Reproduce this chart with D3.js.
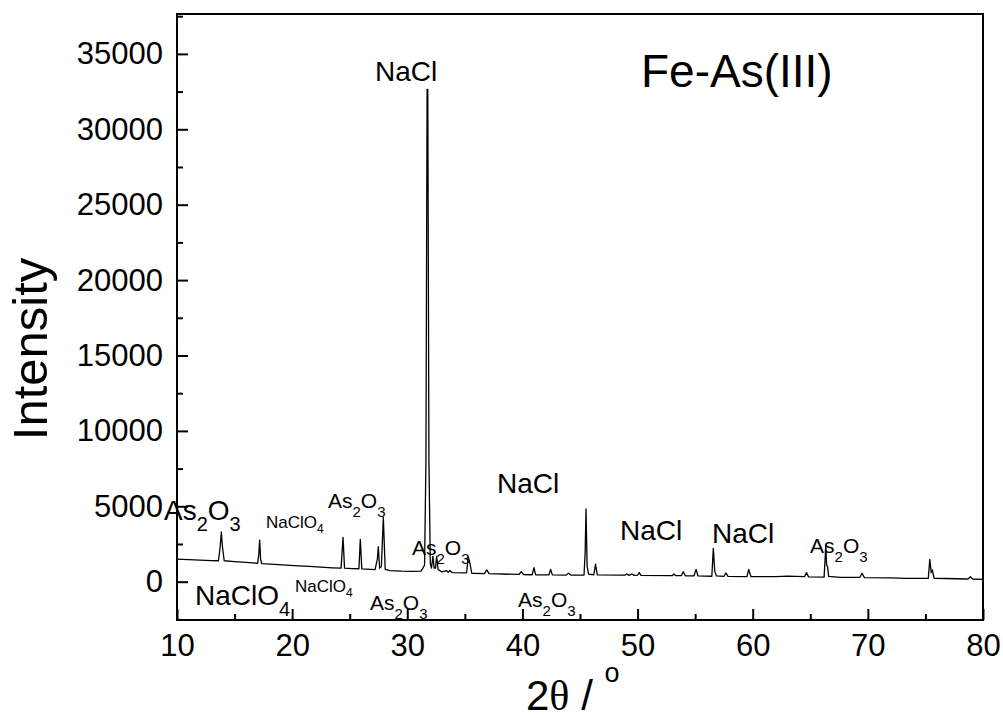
<!DOCTYPE html>
<html>
  <head>
    <script src="https://d3js.org/d3.v7.min.js"></script>
    <style>
      body { margin: 0; background: #fff; }
      text { font-family: "Liberation Sans", Arial, sans-serif; fill: #000; }
    </style>
  </head>
  <body>
    <script>

    // XRD trace: [2theta, intensity]
    var trace = [
      [10.0,1500],[11.0,1460],[12.0,1430],[13.0,1400],[13.6,1390],[13.75,2300],[13.85,3300],[13.95,2300],
      [14.1,1390],[15.0,1330],[16.0,1280],[17.0,1220],[17.1,1800],[17.18,2760],[17.26,1500],[17.35,1200],
      [18.5,1150],[19.5,1100],[20.5,1050],[21.5,1010],[22.5,960],[23.5,920],[24.25,900],[24.42,2940],
      [24.55,900],[25.2,870],[25.8,860],[25.92,2810],[26.05,850],[27.2,800],[27.4,1500],[27.48,2320],
      [27.6,900],[27.75,1000],[27.92,4270],[28.08,820],[28.5,740],[29.5,700],[30.5,690],[31.2,700],
      [31.5,1100],[31.62,8000],[31.72,32650],[31.78,32650],[31.88,8000],[32.0,1200],[32.1,900],[32.23,1700],[32.33,900],
      [32.45,900],[32.55,1700],[32.68,800],[33.0,650],[33.4,740],[33.55,620],[33.7,740],[33.9,600],
      [35.15,590],[35.3,1650],[35.45,1200],[35.6,560],[36.7,540],[36.9,780],[37.1,530],[39.7,480],
      [39.9,660],[40.1,470],[40.85,460],[41.0,930],[41.15,460],[42.3,450],[42.45,820],[42.6,450],
      [43.8,440],[44.0,560],[44.2,440],[45.35,440],[45.45,2000],[45.52,4820],[45.62,1000],[45.75,500],
      [46.2,460],[46.35,1170],[46.5,450],[48.9,430],[49.06,510],[49.25,420],[49.5,510],[49.7,420],
      [50.0,430],[50.15,600],[50.3,420],[53.0,400],[53.16,510],[53.3,400],[53.8,400],[53.97,660],
      [54.15,390],[54.9,390],[55.08,820],[55.25,380],[56.45,360],[56.58,2210],[56.7,700],[56.85,380],
      [57.5,350],[57.68,580],[57.85,350],[59.5,330],[59.65,820],[59.85,330],[62.0,330],[63.0,370],
      [64.5,330],[64.67,600],[64.85,320],[66.2,300],[66.35,2430],[66.42,1100],[66.5,1000],[66.6,350],
      [67.6,290],[69.3,280],[69.5,560],[69.7,270],[72.0,250],[73.4,225],[75.25,230],[75.38,1480],
      [75.5,600],[75.6,780],[75.75,230],[78.7,180],[78.9,330],[79.1,180],[80.0,160]
    ];

    var xTicks = [10, 20, 30, 40, 50, 60, 70, 80];
    var xMinor = [15, 25, 35, 45, 55, 65, 75];
    var yTicks = [0, 5000, 10000, 15000, 20000, 25000, 30000, 35000];
    var yMinor = [-2500, 2500, 7500, 12500, 17500, 22500, 27500, 32500, 37500];

    // phase labels: pieces of [text, isSubscript], anchored at [2theta, intensity]
    var labels = [
      { parts: [["NaCl", 0]], at: [27.2, 33190], size: "l" },
      { parts: [["As", 0], ["2", 1], ["O", 0], ["3", 1]], at: [8.87, 4092], size: "l" },
      { parts: [["NaClO", 0], ["4", 1]], at: [17.73, 3561], size: "s" },
      { parts: [["As", 0], ["2", 1], ["O", 0], ["3", 1]], at: [23.11, 4887], size: "m" },
      { parts: [["As", 0], ["2", 1], ["O", 0], ["3", 1]], at: [30.41, 1777], size: "m" },
      { parts: [["NaCl", 0]], at: [37.79, 5882], size: "l" },
      { parts: [["NaCl", 0]], at: [48.47, 2765], size: "l" },
      { parts: [["NaCl", 0]], at: [56.46, 2566], size: "l" },
      { parts: [["As", 0], ["2", 1], ["O", 0], ["3", 1]], at: [64.98, 1903], size: "m" },
      { parts: [["NaClO", 0], ["4", 1]], at: [11.56, -1545], size: "l" },
      { parts: [["NaClO", 0], ["4", 1]], at: [20.25, -683], size: "s" },
      { parts: [["As", 0], ["2", 1], ["O", 0], ["3", 1]], at: [26.76, -1877], size: "m" },
      { parts: [["As", 0], ["2", 1], ["O", 0], ["3", 1]], at: [39.62, -1678], size: "m" }
    ];

    var w = 1003, h = 718;
    var pLeft = 177, pRight = 983, pTop = 14, pBottom = 620;

    var svg = d3.select("body").append("svg")
      .attr("width", w)
      .attr("height", h);

    var x = d3.scaleLinear().domain([10, 80]).range([pLeft, pRight]);
    var y = d3.scaleLinear().domain([-2540, 37645]).range([pBottom, pTop]);

    // clip the trace to the frame
    svg.append("clipPath").attr("id", "plot")
      .append("rect")
      .attr("x", pLeft).attr("y", pTop)
      .attr("width", pRight - pLeft).attr("height", pBottom - pTop);

    var line = d3.line()
      .x(function(d) { return x(d[0]); })
      .y(function(d) { return y(d[1]); });

    svg.append("path")
      .datum(trace)
      .attr("clip-path", "url(#plot)")
      .attr("d", line)
      .attr("fill", "none")
      .attr("stroke", "#000")
      .attr("stroke-width", 1.3)
      .attr("stroke-linejoin", "round");

    // axes, ticks pointing inwards
    var xAxis = svg.append("g")
      .attr("transform", "translate(0," + pBottom + ")")
      .call(d3.axisBottom(x).tickValues(xTicks).tickSize(-11).tickPadding(14).tickFormat(d3.format("d")));
    svg.append("g")
      .attr("transform", "translate(0," + pBottom + ")")
      .call(d3.axisBottom(x).tickValues(xMinor).tickSize(-6).tickFormat(""));
    svg.append("g")
      .attr("transform", "translate(" + pLeft + ",0)")
      .call(d3.axisLeft(y).tickValues(yTicks).tickSize(-11).tickPadding(14).tickFormat(d3.format("d")));
    svg.append("g")
      .attr("transform", "translate(" + pLeft + ",0)")
      .call(d3.axisLeft(y).tickValues(yMinor).tickSize(-6).tickFormat(""));

    svg.selectAll(".domain").remove();
    svg.selectAll(".tick line").attr("stroke", "#000").attr("stroke-width", 2);
    svg.selectAll(".tick text")
      .attr("font-family", "Liberation Sans, Arial, sans-serif")
      .attr("font-size", "31px")
      .attr("fill", "#000");
    xAxis.selectAll(".tick text").attr("dy", "0.72em");

    // frame
    svg.append("rect")
      .attr("x", pLeft).attr("y", pTop)
      .attr("width", pRight - pLeft).attr("height", pBottom - pTop)
      .attr("fill", "none")
      .attr("stroke", "#000")
      .attr("stroke-width", 2);

    // labels
    var sizes = { l: [28, 20, 11], m: [21, 15, 9], s: [17, 12, 5] };
    labels.forEach(function(lb) {
      var s = sizes[lb.size];
      var t = svg.append("text")
        .attr("x", x(lb.at[0]))
        .attr("y", y(lb.at[1]))
        .attr("font-size", s[0] + "px");
      var sub = false;
      lb.parts.forEach(function(p) {
        var dy = 0;
        if (p[1] && !sub) dy = s[2];
        if (!p[1] && sub) dy = -s[2];
        sub = !!p[1];
        t.append("tspan")
          .attr("dy", dy)
          .attr("font-size", (p[1] ? s[1] : s[0]) + "px")
          .text(p[0]);
      });
    });

    svg.append("text")
      .attr("x", 641).attr("y", 87)
      .attr("font-size", "46px")
      .text("Fe-As(III)");

    // axis titles
    svg.append("text")
      .attr("transform", "translate(47,349) rotate(-90)")
      .attr("text-anchor", "middle")
      .attr("font-size", "49px")
      .text("Intensity");

    var xt = svg.append("text")
      .attr("x", 526).attr("y", 710)
      .attr("font-size", "42px");
    xt.append("tspan").text("2");
    xt.append("tspan").attr("font-family", "Liberation Serif, serif").text("θ");
    xt.append("tspan").text(" / ");
    xt.append("tspan").attr("dy", -28).attr("font-size", "27px").text("o");

    </script>
  </body>
</html>
